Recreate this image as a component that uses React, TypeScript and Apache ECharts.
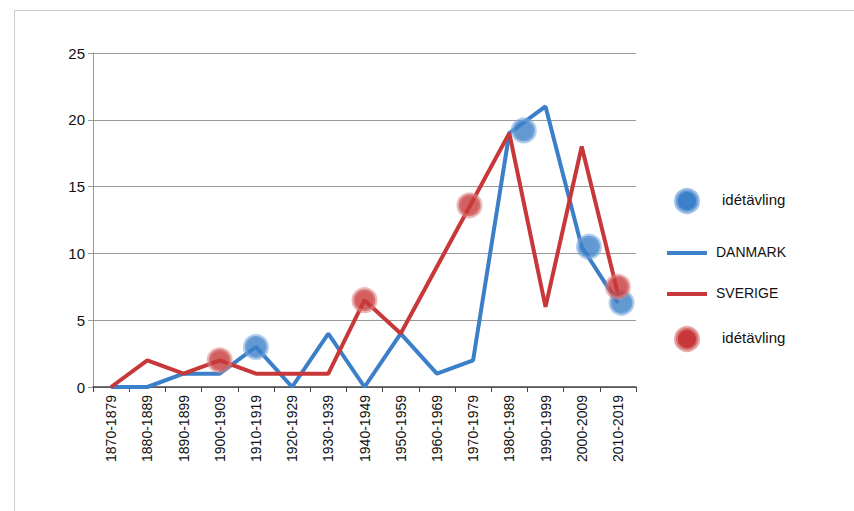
import { useEffect, useRef } from 'react'
import * as echarts from 'echarts'

const decades = ['1870-1879', '1880-1889', '1890-1899', '1900-1909', '1910-1919', '1920-1929', '1930-1939',
  '1940-1949', '1950-1959', '1960-1969', '1970-1979', '1980-1989', '1990-1999', '2000-2009', '2010-2019']
const danmark = [0, 0, 1, 1, 3, 0, 4, 0, 4, 1, 2, 19, 21, 10.5, 6.3]
const sverige = [0, 2, 1, 2, 1, 1, 1, 6.5, 4, 9, 14, 19, 6, 18, 7]
// idea competitions: [category position, value]
const blueIdeas = [[4, 3], [11.4, 19.2], [13.2, 10.5], [14.1, 6.3]]
const redIdeas = [[3, 2], [7, 6.5], [9.9, 13.6], [14, 7.5]]

const BLUE = '#3b7fc8'
const RED = '#c8383a'

export default function App() {
  const ref = useRef<HTMLDivElement>(null)

  useEffect(() => {
    if (!ref.current) return
    const chart = echarts.init(ref.current, null, { renderer: 'svg' })
    const dot = (color: string, glow: string) => ({
      type: 'scatter' as const,
      xAxisIndex: 1,
      symbolSize: 22,
      itemStyle: { color, borderColor: glow, borderWidth: 4 },
      z: 5,
    })
    chart.setOption({
      animation: false,
      textStyle: { fontFamily: 'Liberation Sans, Arial, sans-serif' },
      grid: { left: 93, right: 218, top: 53, bottom: 124 },
      xAxis: [
        {
          type: 'category',
          data: decades,
          boundaryGap: true,
          axisLine: { lineStyle: { color: '#444', width: 1.5 } },
          axisTick: { show: true, lineStyle: { color: '#444' } },
          axisLabel: { rotate: 90, color: '#111', fontSize: 14, interval: 0 },
        },
        { type: 'value', min: -0.5, max: 14.5, show: false },
      ],
      yAxis: {
        type: 'value',
        min: 0,
        max: 25,
        interval: 5,
        axisLine: { show: true, onZero: false, lineStyle: { color: '#999' } },
        axisTick: { show: true, lineStyle: { color: '#999' } },
        axisLabel: { color: '#111', fontSize: 15 },
        splitLine: { lineStyle: { color: '#999', width: 1.2 } },
      },
      series: [
        { type: 'line', data: danmark, symbol: 'none', lineStyle: { color: BLUE, width: 4 } },
        { type: 'line', data: sverige, symbol: 'none', lineStyle: { color: RED, width: 4 } },
        { ...dot(BLUE, 'rgba(120,165,220,0.7)'), data: blueIdeas },
        { ...dot(RED, 'rgba(220,130,130,0.7)'), data: redIdeas },
      ],
      graphic: [
        { type: 'circle', shape: { cx: 687, cy: 201, r: 11 }, style: { fill: BLUE, stroke: 'rgba(120,165,220,0.7)', lineWidth: 4 } },
        { type: 'text', x: 722, y: 192, style: { text: 'idétävling', fontSize: 15, fill: '#111', fontFamily: 'Liberation Sans, Arial' } },
        { type: 'line', shape: { x1: 667, y1: 253, x2: 707, y2: 253 }, style: { stroke: BLUE, lineWidth: 4 } },
        { type: 'text', x: 716, y: 245, style: { text: 'DANMARK', fontSize: 14, fill: '#111', fontFamily: 'Liberation Sans, Arial' } },
        { type: 'line', shape: { x1: 667, y1: 294, x2: 707, y2: 294 }, style: { stroke: RED, lineWidth: 4 } },
        { type: 'text', x: 716, y: 286, style: { text: 'SVERIGE', fontSize: 14, fill: '#111', fontFamily: 'Liberation Sans, Arial' } },
        { type: 'circle', shape: { cx: 687, cy: 339, r: 11 }, style: { fill: RED, stroke: 'rgba(220,130,130,0.7)', lineWidth: 4 } },
        { type: 'text', x: 722, y: 330, style: { text: 'idétävling', fontSize: 15, fill: '#111', fontFamily: 'Liberation Sans, Arial' } },
      ],
    })
    return () => chart.dispose()
  }, [])

  return (
    <div style={{ position: 'fixed', left: 0, top: 0, width: 854, height: 511, background: '#fff' }}>
      <div style={{ position: 'absolute', left: 14, top: 10, right: 0, bottom: 0, borderLeft: '1px solid #ccc', borderTop: '1px solid #ccc' }} />
      <div ref={ref} style={{ position: 'absolute', left: 0, top: 0, width: 854, height: 511 }} />
    </div>
  )
}
